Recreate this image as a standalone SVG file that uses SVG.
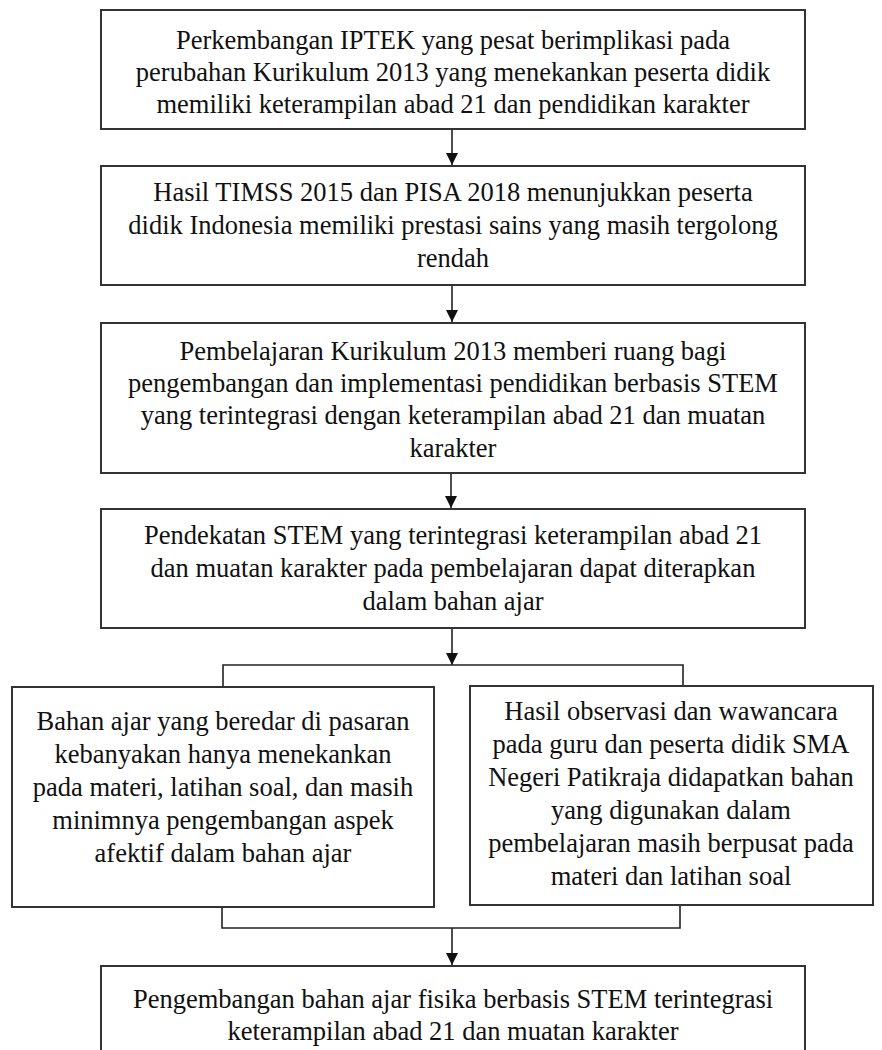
<svg xmlns="http://www.w3.org/2000/svg" width="882" height="1050" viewBox="0 0 882 1050">
<style>
.box{fill:#fff;stroke:#333;stroke-width:2}
.t{font-family:'Liberation Serif','DejaVu Serif',serif;font-size:26.5px;fill:#111;text-anchor:middle}
.c{fill:none;stroke:#222;stroke-width:1.6}
</style>
<defs>
<marker id="ah" markerUnits="userSpaceOnUse" markerWidth="12" markerHeight="12" refX="12" refY="6" orient="auto">
<path d="M0,0 L12,6 L0,12 z" fill="#111"/>
</marker>
</defs>
<rect width="882" height="1050" fill="#fff"/>
<g id="connectors">
<line class="c" x1="452" y1="129" x2="452" y2="165" marker-end="url(#ah)"/>
<line class="c" x1="452" y1="285" x2="452" y2="322" marker-end="url(#ah)"/>
<line class="c" x1="451" y1="473" x2="451" y2="508" marker-end="url(#ah)"/>
<line class="c" x1="452" y1="628" x2="452" y2="665" marker-end="url(#ah)"/>
<polyline class="c" points="223,687 223,665 683,665 683,686"/>
<polyline class="c" points="222,907 222,928 680,928 680,905"/>
<line class="c" x1="452" y1="928" x2="452" y2="965" marker-end="url(#ah)"/>
</g>
<g id="n1">
<rect class="box" x="101" y="10" width="704" height="119"/>
<text class="t" x="453" y="49">Perkembangan IPTEK yang pesat berimplikasi pada</text>
<text class="t" x="453" y="81">perubahan Kurikulum 2013 yang menekankan peserta didik</text>
<text class="t" x="453" y="113">memiliki keterampilan abad 21 dan pendidikan karakter</text>
</g>
<g id="n2">
<rect class="box" x="101" y="166" width="704" height="119"/>
<text class="t" x="453" y="201">Hasil TIMSS 2015 dan PISA 2018 menunjukkan peserta</text>
<text class="t" x="453" y="234">didik Indonesia memiliki prestasi sains yang masih tergolong</text>
<text class="t" x="453" y="267">rendah</text>
</g>
<g id="n3">
<rect class="box" x="101" y="323" width="704" height="150"/>
<text class="t" x="453" y="360">Pembelajaran Kurikulum 2013 memberi ruang bagi</text>
<text class="t" x="453" y="392">pengembangan dan implementasi pendidikan berbasis STEM</text>
<text class="t" x="453" y="424">yang terintegrasi dengan keterampilan abad 21 dan muatan</text>
<text class="t" x="453" y="457">karakter</text>
</g>
<g id="n4">
<rect class="box" x="101" y="509" width="704" height="119"/>
<text class="t" x="453" y="544">Pendekatan STEM yang terintegrasi keterampilan abad 21</text>
<text class="t" x="453" y="577">dan muatan karakter pada pembelajaran dapat diterapkan</text>
<text class="t" x="453" y="610">dalam bahan ajar</text>
</g>
<g id="n5">
<rect class="box" x="12" y="687" width="422" height="220"/>
<text class="t" x="223" y="730">Bahan ajar yang beredar di pasaran</text>
<text class="t" x="223" y="763">kebanyakan hanya menekankan</text>
<text class="t" x="223" y="796">pada materi, latihan soal, dan masih</text>
<text class="t" x="223" y="829">minimnya pengembangan aspek</text>
<text class="t" x="223" y="862">afektif dalam bahan ajar</text>
</g>
<g id="n6">
<rect class="box" x="470" y="686" width="403" height="219"/>
<text class="t" x="671" y="720">Hasil observasi dan wawancara</text>
<text class="t" x="671" y="753">pada guru dan peserta didik SMA</text>
<text class="t" x="671" y="786">Negeri Patikraja didapatkan bahan</text>
<text class="t" x="671" y="819">yang digunakan dalam</text>
<text class="t" x="671" y="852">pembelajaran masih berpusat pada</text>
<text class="t" x="671" y="885">materi dan latihan soal</text>
</g>
<g id="n7">
<rect class="box" x="101" y="966" width="704" height="100"/>
<text class="t" x="453" y="1008">Pengembangan bahan ajar fisika berbasis STEM terintegrasi</text>
<text class="t" x="453" y="1040">keterampilan abad 21 dan muatan karakter</text>
</g>
</svg>
